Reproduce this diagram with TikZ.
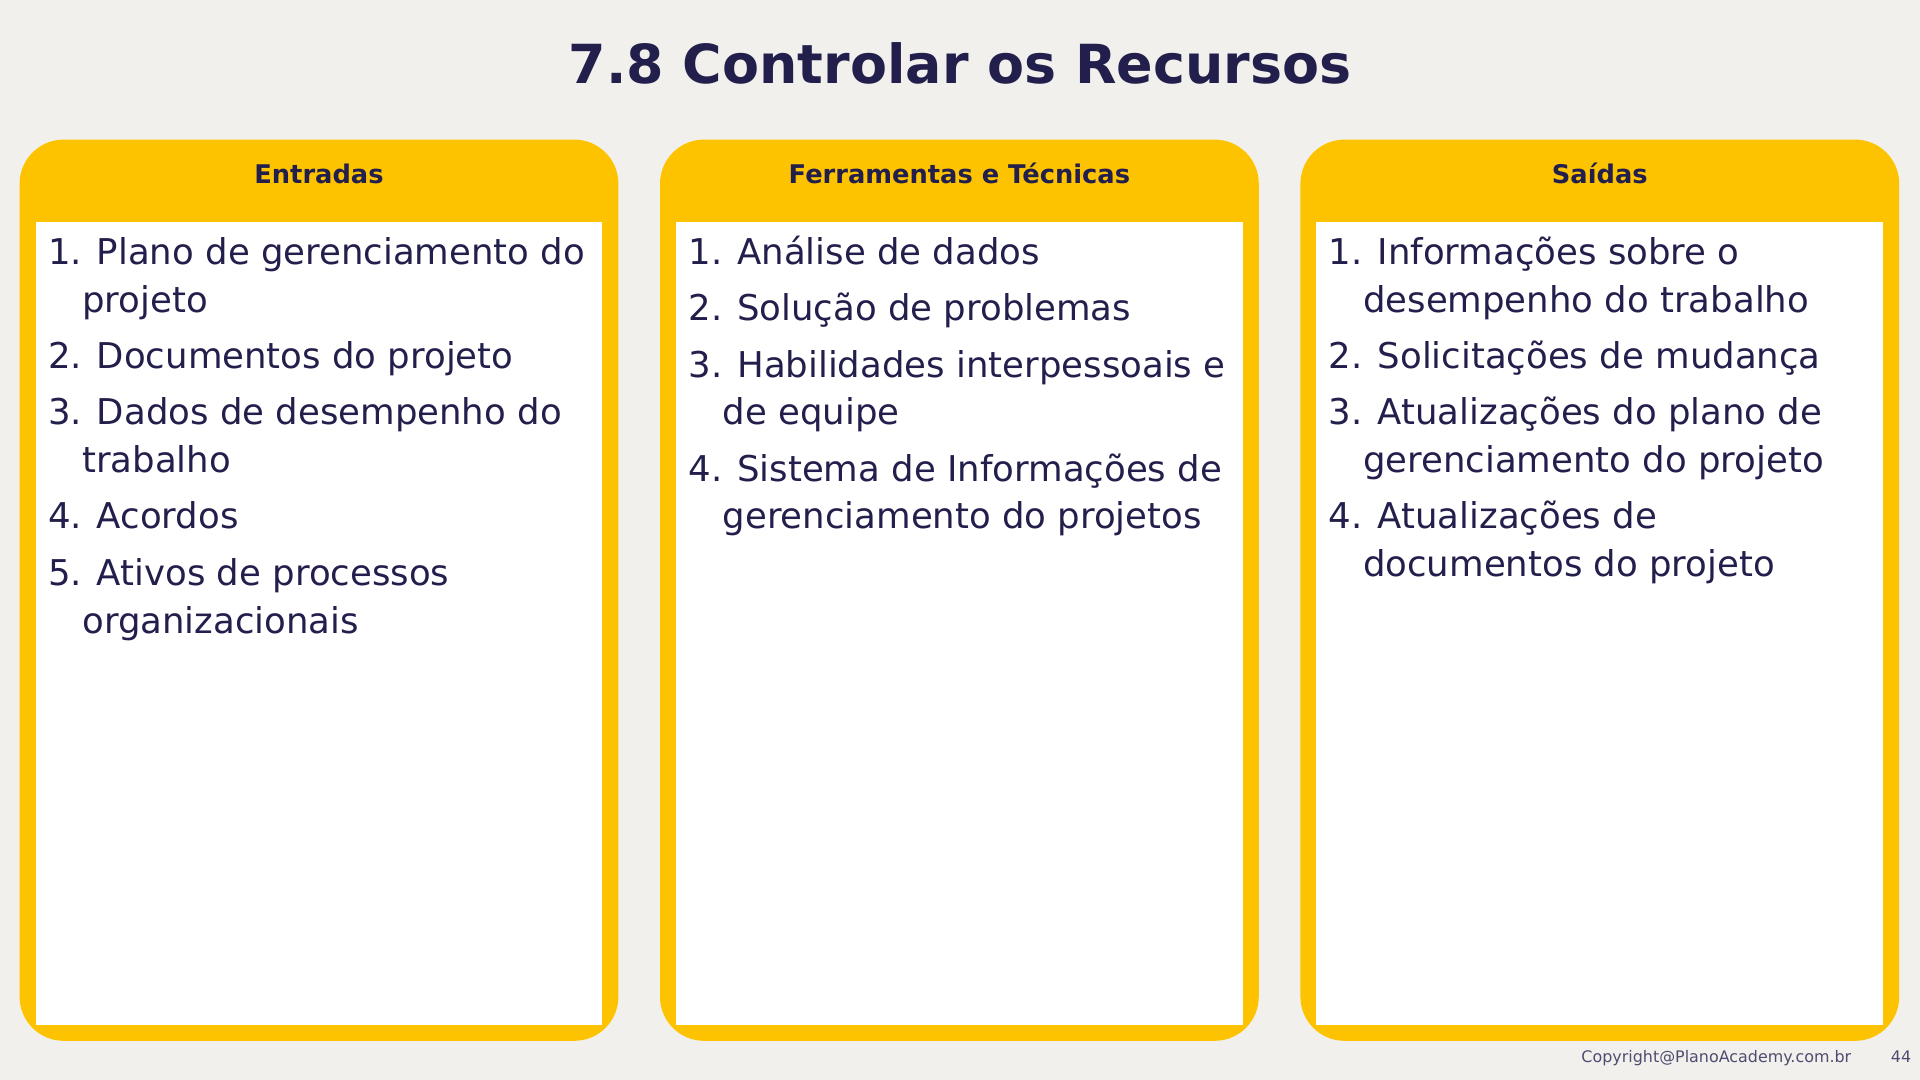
\documentclass[tikz,border=0pt]{standalone}
\usepackage{fontspec}
\setmainfont{DejaVu Sans}
\definecolor{bg}{HTML}{F2F0EC}
\definecolor{gold}{HTML}{FDC300}
\definecolor{ink}{HTML}{231F4C}
\begin{document}
\begin{tikzpicture}[x=1pt,y=-1pt,
  item/.style={anchor=base west,inner sep=0,align=left,text=ink,font=\fontsize{29}{39}\selectfont},
  head/.style={text=ink,font=\fontsize{21}{24}\selectfont\bfseries,inner sep=0}]
\fill[bg] (0,0) rectangle (1568,882);
\useasboundingbox (0,0) rectangle (1568,882);
\node[text=ink,font=\fontsize{44}{50}\selectfont\bfseries] (title) at (784,52) {7.8 Controlar os Recursos};
\foreach \x/\n/\t in {16/a/Entradas,539/b/Ferramentas e Técnicas,1062/c/Saídas}{
  \fill[gold,rounded corners=36pt] (\x,114) rectangle ++(489,736);
  \fill[white] (\x+13,181) rectangle ++(463,656);
  \node[head] (h\n) at (\x+244.5,142) {\t};
}
\newcommand{\ind}{\hspace*{28pt}}
\node[item] (a1) at (39,255) {1. Plano de gerenciamento do\\\ind projeto};
\node[item] (a2) at (39,301) {2. Documentos do projeto};
\node[item] (a3) at (39,386) {3. Dados de desempenho do\\\ind trabalho};
\node[item] (a4) at (39,432) {4. Acordos};
\node[item] (a5) at (39,517) {5. Ativos de processos\\\ind organizacionais};
\node[item] (b1) at (562,216) {1. Análise de dados};
\node[item] (b2) at (562,262) {2. Solução de problemas};
\node[item] (b3) at (562,347) {3. Habilidades interpessoais e\\\ind de equipe};
\node[item] (b4) at (562,432) {4. Sistema de Informações de\\\ind gerenciamento do projetos};
\node[item] (c1) at (1085,255) {1. Informações sobre o\\\ind desempenho do trabalho};
\node[item] (c2) at (1085,301) {2. Solicitações de mudança};
\node[item] (c3) at (1085,386) {3. Atualizações do plano de\\\ind gerenciamento do projeto};
\node[item] (c4) at (1085,471) {4. Atualizações de\\\ind documentos do projeto};
\node[anchor=base east,inner sep=0,text=ink!80,font=\fontsize{13}{15}\selectfont] (copy) at (1512,868) {Copyright@PlanoAcademy.com.br};
\node[anchor=base east,inner sep=0,text=ink!80,font=\fontsize{13}{15}\selectfont] (pg) at (1561,868) {44};
\end{tikzpicture}
\end{document}
